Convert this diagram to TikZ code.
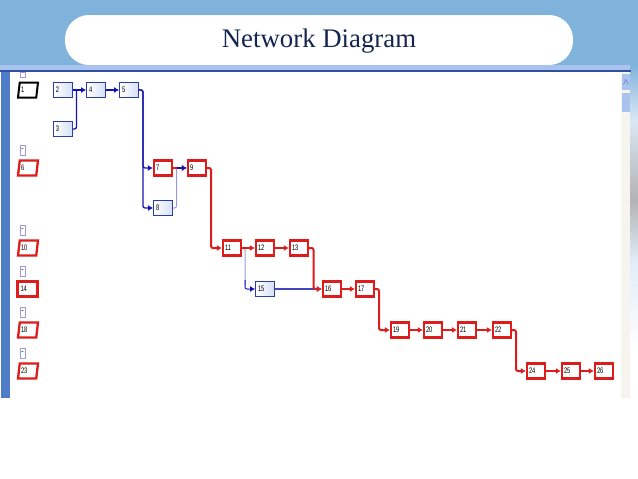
\documentclass[tikz,border=0pt]{standalone}
\usepackage{fontspec}
\setmainfont{Liberation Serif}
\newfontfamily\tasklabelfont[FakeStretch=0.72]{Liberation Sans}
\usepackage{tikz}
\usetikzlibrary{arrows.meta}
\usetikzlibrary{shapes.geometric}
\definecolor{skyblue}{HTML}{80B3DC}
\definecolor{barblue}{HTML}{A9C2EE}
\definecolor{barline}{HTML}{2F4F9F}
\definecolor{stripblue}{HTML}{4F7CC8}
\definecolor{taskblue}{HTML}{2A3CA8}
\definecolor{taskfill}{HTML}{D5E0F6}
\definecolor{critred}{HTML}{DD1C1C}
\definecolor{linkblue}{HTML}{1414B4}
\definecolor{softlink}{HTML}{9C9CD8}
\definecolor{titleblue}{HTML}{14264F}
\definecolor{trackgrey}{HTML}{F5F4EE}
\tikzset{
  tasklabel/.style={font=\tasklabelfont\fontsize{8}{8}\selectfont, text=black, text width=14pt, align=left, inner sep=0pt},
  plaintask/.style={tasklabel, shape=rectangle, draw=taskblue, line width=1.4pt, left color=white, right color=taskfill, minimum width=18.5pt, minimum height=15.5pt},
  crittask/.style={tasklabel, shape=rectangle, draw=critred, line width=2.3pt, fill=white, minimum width=18pt, minimum height=15pt},
  summarytask/.style={tasklabel, shape=trapezium, trapezium left angle=75, trapezium right angle=105, trapezium stretches=true, draw=critred, line width=2.3pt, fill=white, minimum width=20pt, minimum height=15pt},
  rootsummary/.style={summarytask, draw=black, line width=2pt},
  foldbox/.style={shape=rectangle, draw=softlink, line width=0.9pt, fill=white, minimum width=5pt, minimum height=10pt, inner sep=0pt, font=\bfseries\fontsize{7}{7}\selectfont},
  bluelink/.style={draw=linkblue, line width=1.3pt, rounded corners=2pt, -{Latex[length=5pt,width=6pt]}},
  redlink/.style={draw=critred, line width=2pt, rounded corners=2pt, -{Latex[length=5pt,width=6pt]}},
  softjoin/.style={draw=softlink, line width=1pt, rounded corners=2pt},
}
\begin{document}
\begin{tikzpicture}[x=1pt, y=-1pt]
  \useasboundingbox (0,0) rectangle (638,479);

  % backdrop
  \fill[white] (0,0) rectangle (638,479);
  \fill[skyblue] (0,0) rectangle (638,65);
  \shade[top color=skyblue, bottom color=white!70!skyblue] (630,65) rectangle (638,120);
  \shade[top color=white!70!skyblue, bottom color=gray!60] (630,120) rectangle (638,200);
  \shade[top color=gray!60, bottom color=skyblue!25] (630,200) rectangle (638,260);
  \shade[top color=skyblue!25, bottom color=white] (630,260) rectangle (638,350);

  % title
  \fill[white] (65,15) [rounded corners=24pt] rectangle (573,65);
  \node[text=titleblue, font=\fontsize{26.8}{26.8}\selectfont] (title) at (319,41) {Network Diagram};

  % window
  \fill[barblue] (0,65) rectangle (630,71);
  \fill[barline] (0,70) rectangle (631,72);
  \fill[stripblue] (1,72) rectangle (10,398);
  \fill[trackgrey] (621,72) rectangle (630,398);
  \fill[barblue] (622,74) rectangle (630,90);
  \node[font=\fontsize{8}{8}\selectfont, text=taskblue, inner sep=0pt] (scrollup) at (626,82) {$\wedge$};
  \fill[barblue] (622,93) rectangle (630,112);

  % outline column
  \foreach \name/\row in {fa/150,fb/230,fc/271,fd/312,fe/353}{
    \node[foldbox] (\name) at (22.5,\row) {-};
  }
  \node[foldbox, minimum height=5pt] (ftop) at (22.5,74.5) {};
  \node[rootsummary] (t1) at (28,90) {1};
  \foreach \num/\row in {6/168,10/248,18/330,23/371}{
    \node[summarytask] (t\num) at (28,\row) {\num};
  }
  \node[crittask, minimum width=20pt] (t14) at (27.5,289) {14};

  % tasks
  \foreach \num/\x/\y in {2/63/90,3/63/129,4/96/90,5/129/90,8/163/208,15/265/289}{
    \node[plaintask] (t\num) at (\x,\y) {\num};
  }
  \foreach \num/\x/\y in {7/163/168,9/197/168,11/232/248,12/265/248,13/299/248,16/332/289,17/365/289,19/400/330,20/433/330,21/467/330,22/502/330,24/536/371,25/571/371,26/604/371}{
    \node[crittask] (t\num) at (\x,\y) {\num};
  }

  % links
  \draw[softjoin] (t8.east) -| (176.5,168);
  \draw[softjoin] (t11.east) -- (245,248) -- (245,285);
  \draw[bluelink] (t2) -- (t4);
  \draw[bluelink, -] (t3.east) -| (76.5,90);
  \draw[bluelink] (t4) -- (t5);
  \draw[bluelink] (t5.east) -- (143,90) |- (t7.west);
  \draw[bluelink] (t5.east) -- (143,90) |- (t8.west);
  \draw[softjoin, -{Latex[length=5pt,width=6pt]}, draw=linkblue] (245,280) |- (t15.west);
  \draw[bluelink, draw=linkblue!80!white] (t15) -- (t16);
  \draw[redlink] (t7) -- (t9);
  \draw[bluelink] (176.5,168) -- (t9.west);
  \draw[redlink] (t9.east) -- (211,168) |- (t11.west);
  \foreach \from/\to in {11/12,12/13,16/17,19/20,20/21,21/22,24/25,25/26}{
    \draw[redlink] (t\from) -- (t\to);
  }
  \draw[redlink] (t13.east) -- (313.5,248) |- (t16.west);
  \draw[redlink] (t17.east) -- (379,289) |- (t19.west);
  \draw[redlink] (t22.east) -- (516,330) |- (t24.west);
\end{tikzpicture}
\end{document}
